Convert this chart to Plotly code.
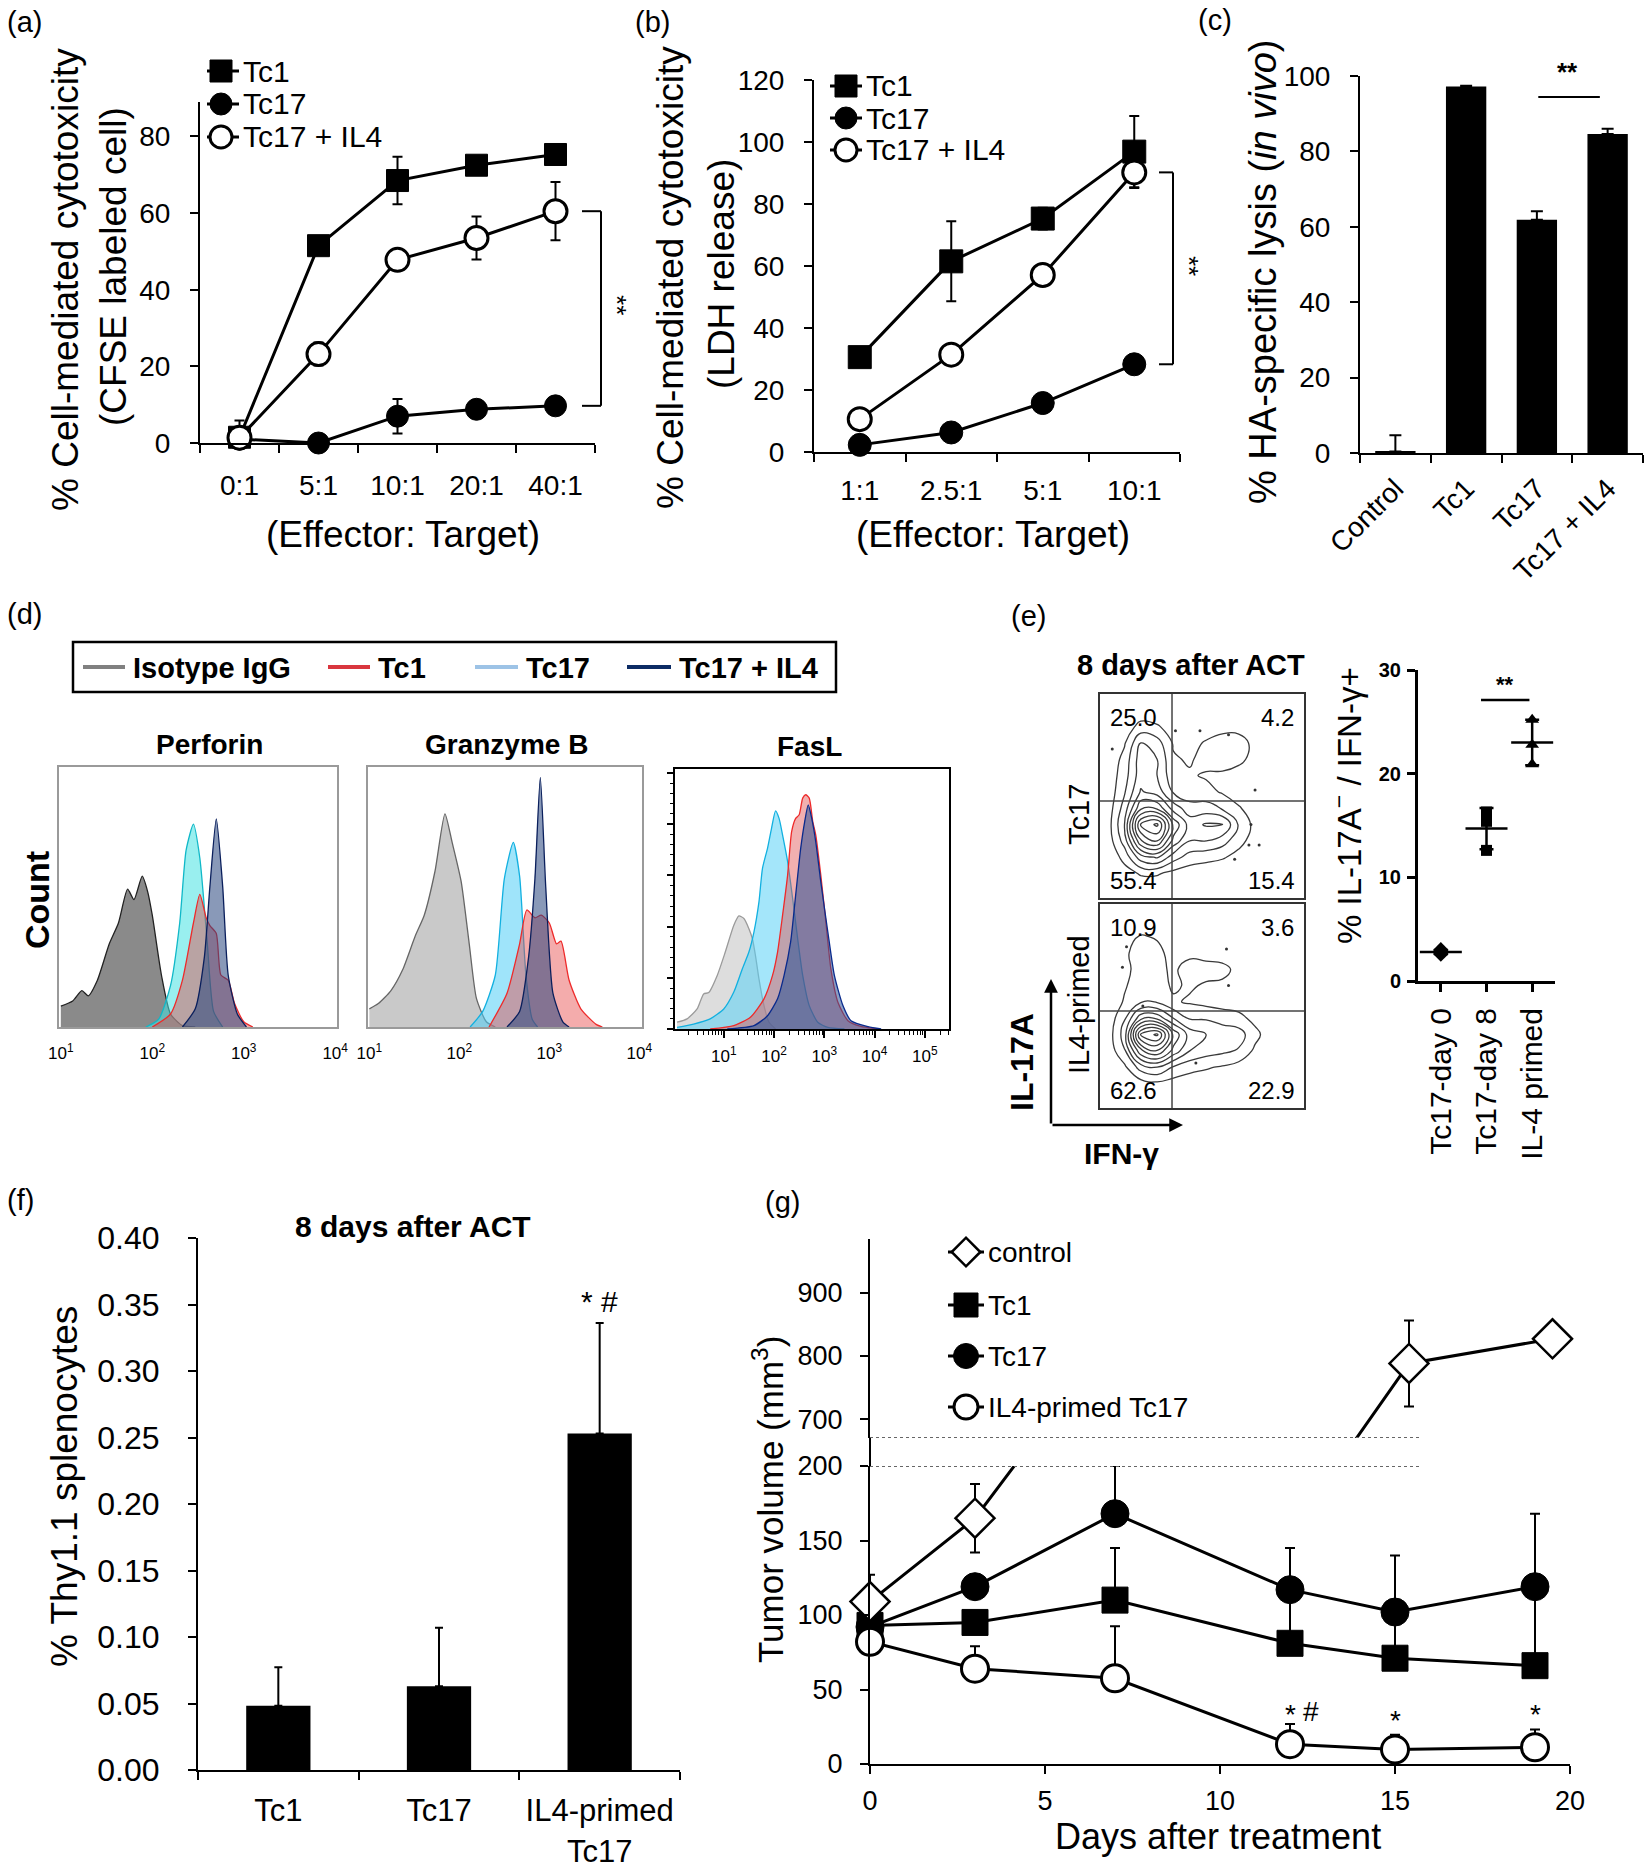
import plotly.graph_objects as go
import numpy as np

W, H = 1650, 1869
FONT = "Liberation Sans, Arial, sans-serif"

# ---------------- data ----------------
# (a) cytotoxicity, CFSE labeled targets
ratio_a = ["0:1", "5:1", "10:1", "20:1", "40:1"]
a_tc1 = [1.5, 51.5, 68.5, 72.5, 75.3]
a_tc1_err = [0.0, 0.0, 6.2, 0.0, 0.0]
a_tc17 = [1.0, 0.0, 7.0, 8.8, 9.7]
a_tc17_err = [0.0, 0.0, 4.5, 0.0, 0.0]
a_il4 = [1.4, 23.2, 47.8, 53.5, 60.5]
a_il4_err = [4.5, 3.0, 0.0, 5.6, 7.6]

# (b) cytotoxicity, LDH release
ratio_b = ["1:1", "2.5:1", "5:1", "10:1"]
b_tc1 = [30.6, 61.5, 75.3, 96.9]
b_tc1_err = [0.0, 12.9, 3.5, 11.5]
b_tc17 = [2.3, 6.3, 15.8, 28.3]
b_tc17_err = [0.0, 0.0, 0.0, 0.0]
b_il4 = [10.6, 31.4, 57.1, 90.2]
b_il4_err = [0.0, 0.0, 0.0, 5.0]

# (c) in vivo lysis
groups_c = ["Control", "Tc1", "Tc17", "Tc17 + IL4"]
c_lysis = [0.4, 97.2, 61.9, 84.6]
c_err = [4.3, 0.2, 2.2, 1.4]

# (d) flow histograms, x = log10 fluorescence, y = % of panel height
perf_iso_x = [1.0, 1.13, 1.23, 1.30, 1.40, 1.53, 1.63, 1.73, 1.80, 1.89, 1.95, 2.00, 2.10, 2.20, 2.33, 2.47]
perf_iso_y = [8, 10, 14, 12, 18, 32, 40, 53, 49, 58, 52, 43, 20, 5, 0.5, 0]
perf_tc17_x = [1.93, 2.07, 2.20, 2.30, 2.37, 2.45, 2.52, 2.60, 2.67, 2.77]
perf_tc17_y = [0, 3, 16, 40, 68, 78, 65, 33, 6, 0]
perf_tc1_x = [2.00, 2.20, 2.33, 2.45, 2.52, 2.59, 2.63, 2.70, 2.75, 2.83, 2.90, 3.00, 3.10]
perf_tc1_y = [0, 5, 18, 40, 51, 42, 39, 36, 20, 18, 9, 2, 0]
perf_il4_x = [2.33, 2.47, 2.57, 2.63, 2.70, 2.77, 2.83, 2.93, 3.03]
perf_il4_y = [0, 7, 27, 54, 80, 54, 20, 5, 0]

gzm_iso_x = [1.00, 1.10, 1.24, 1.37, 1.51, 1.61, 1.73, 1.84, 1.92, 2.02, 2.11, 2.19, 2.30, 2.40]
gzm_iso_y = [7, 9, 14, 22, 35, 43, 60, 82, 71, 56, 32, 11, 2, 0]
gzm_tc17_x = [2.12, 2.26, 2.40, 2.50, 2.60, 2.67, 2.74, 2.81, 2.87]
gzm_tc17_y = [0, 6, 20, 57, 71, 58, 20, 3, 0]
gzm_tc1_x = [2.33, 2.53, 2.67, 2.75, 2.84, 2.91, 3.00, 3.08, 3.13, 3.22, 3.35, 3.52, 3.59]
gzm_tc1_y = [0, 13, 32, 45, 42, 43, 40, 32, 33, 18, 7, 1, 0]
gzm_il4_x = [2.53, 2.67, 2.77, 2.84, 2.90, 2.96, 3.04, 3.15, 3.22]
gzm_il4_y = [0, 6, 27, 57, 96, 54, 13, 2, 0]

fasl_iso_x = [0.07, 0.27, 0.47, 0.60, 0.70, 0.87, 1.03, 1.20, 1.30, 1.40, 1.50, 1.57, 1.63, 1.70, 1.80, 1.90, 2.03]
fasl_iso_y = [2.6, 3.9, 7.7, 13.5, 14, 20.6, 29.6, 39.9, 43.5, 42.5, 38.6, 34.7, 28.3, 19.3, 9, 2.6, 0]
fasl_tc17_x = [0.07, 0.40, 0.73, 1.00, 1.20, 1.37, 1.50, 1.60, 1.70, 1.77, 1.87, 1.95, 2.03, 2.10, 2.17,
               2.27, 2.37, 2.47, 2.57, 2.70, 2.87, 3.07, 3.40]
fasl_tc17_y = [0.6, 1.9, 3.9, 7.7, 14.2, 23.2, 29.6, 37.3, 48.9, 61.8, 69.5, 77.2, 83.9, 81, 74.6,
               64.4, 50.2, 34.7, 20.6, 9, 2.6, 0.6, 0]
fasl_tc1_x = [0.73, 1.20, 1.53, 1.80, 1.97, 2.07, 2.17, 2.27, 2.35, 2.43, 2.50, 2.57, 2.63, 2.70, 2.77,
              2.83, 2.93, 3.03, 3.13, 3.27, 3.47, 3.73, 4.07]
fasl_tc1_y = [0, 1.3, 4.5, 11.6, 20.6, 29.6, 43.8, 59.2, 75.9, 81, 82.4, 88.8, 90.1, 88.8, 79.8,
              74.6, 59.2, 41.2, 23.2, 10.3, 3.2, 1, 0]
fasl_il4_x = [1.07, 1.60, 1.87, 2.07, 2.20, 2.33, 2.43, 2.53, 2.61, 2.68, 2.75, 2.83, 2.93, 3.07, 3.20,
              3.37, 3.53, 3.87, 4.13]
fasl_il4_y = [0, 1.3, 5.1, 11.6, 20.6, 33.5, 51.5, 69.5, 79.8, 86.2, 81, 72, 56.6, 37.3, 20.6,
              9, 3.2, 0.9, 0]

# (e) contour densities (rows bottom -> top), outlier events, quadrant numbers, summary dots
grid_e = [0.04, 0.12, 0.20, 0.28, 0.36, 0.44, 0.52, 0.60, 0.68, 0.76, 0.84, 0.92]
tc17_density = [
    [0, 0, 0, 0, 0, 0, 0, 0, 0, 0, 0, 0],
    [0, 0.3, 0.8, 0.8, 0.4, 0.2, 0.1, 0, 0, 0, 0, 0],
    [0, 1, 3, 3.5, 2, 1.2, 1, 0.8, 0.4, 0.1, 0, 0],
    [0.2, 2, 6, 7, 4, 2.5, 2.5, 2, 1, 0.3, 0, 0],
    [0.3, 2.5, 8, 9, 5, 3, 3.5, 3.5, 1.5, 0.4, 0, 0],
    [0.2, 2, 5, 5, 3, 2, 2, 1.5, 0.8, 0.2, 0, 0],
    [0.1, 1.5, 3.5, 3, 1.5, 1, 1, 0.6, 0.2, 0, 0, 0],
    [0.1, 1.2, 3, 2.5, 1, 0.8, 0.6, 0.4, 0.2, 0, 0, 0],
    [0, 1, 3, 2.5, 0.8, 0.6, 1, 1.5, 1, 0.3, 0, 0],
    [0, 0.6, 2.5, 2, 0.6, 0.4, 0.8, 1.2, 1.3, 0.3, 0, 0],
    [0, 0.2, 1, 0.8, 0.3, 0.1, 0.2, 0.3, 0.2, 0, 0, 0],
    [0, 0, 0.1, 0.1, 0, 0, 0, 0, 0, 0, 0, 0],
]
il4_density = [
    [0, 0, 0, 0, 0, 0, 0, 0, 0, 0, 0, 0],
    [0, 0, 0.3, 0.5, 0.3, 0.2, 0.1, 0, 0, 0, 0, 0],
    [0, 0.5, 2, 2.5, 1.5, 1, 0.8, 0.6, 0.3, 0, 0, 0],
    [0.1, 1.5, 5, 6, 4, 2.5, 2, 1.8, 1.5, 0.5, 0, 0],
    [0.2, 2, 8, 9, 5, 3, 2.5, 2.2, 2, 1, 0.1, 0],
    [0.1, 1.5, 4, 4, 2.5, 1.5, 1.5, 1.2, 1, 0.4, 0, 0],
    [0, 0.8, 1.5, 1.5, 0.8, 0.6, 0.4, 0.3, 0.2, 0, 0, 0],
    [0, 0.6, 1.2, 1, 0.6, 0.8, 0.6, 0.5, 0.2, 0, 0, 0],
    [0, 0.5, 1, 1, 0.5, 1.2, 1, 1, 0.4, 0, 0, 0],
    [0, 0.5, 1.2, 1, 0.3, 0.4, 0.4, 0.2, 0, 0, 0, 0],
    [0, 0.2, 0.8, 0.6, 0.2, 0, 0, 0, 0, 0, 0, 0],
    [0, 0, 0, 0, 0, 0, 0, 0, 0, 0, 0, 0],
]
tc17_dots_x = [0.06, 0.37, 0.49, 0.63, 0.76, 0.74, 0.73, 0.78, 0.66]
tc17_dots_y = [0.73, 0.82, 0.82, 0.80, 0.53, 0.36, 0.26, 0.26, 0.19]
il4_dots_x = [0.13, 0.62, 0.63, 0.21, 0.47, 0.11]
il4_dots_y = [0.79, 0.78, 0.60, 0.50, 0.22, 0.69]
tc17_quads = ["25.0", "4.2", "55.4", "15.4"]   # UL, UR, LL, LR
il4_quads = ["10.9", "3.6", "62.6", "22.9"]
e_groups = ["Tc17-day 0", "Tc17-day 8", "IL-4 primed"]
e_day0 = [3.0, 2.8, 2.6]
e_day8 = [16.3, 15.4, 12.6]
e_il4 = [25.2, 22.8, 20.9]
e_mean = [2.8, 14.7, 23.0]
e_sd = [0.2, 2.0, 2.2]

# (f) Thy1.1 splenocytes
groups_f = ["Tc1", "Tc17", "IL4-primed<br>Tc17"]
f_thy = [0.0483, 0.063, 0.253]
f_err = [0.029, 0.044, 0.083]

# (g) tumor volume
days = [0, 3, 7, 12, 15, 19]
control_days = [0, 3, 7, 12, 15.4, 19.5]
g_control = [109, 165, 290, 520, 788, 827]
g_control_err = [18, 23, 0, 0, 68, 0]
g_tc1 = [93, 95, 110, 81, 71, 66]
g_tc1_err = [3, 4, 35, 36, 30, 53]
g_tc17 = [92, 119, 168, 117, 102, 119]
g_tc17_err = [3, 4, 32, 28, 38, 49]
g_il4 = [82, 64, 57.5, 13.3, 9.7, 11.2]
g_il4_err = [3, 15, 35, 13.5, 10, 12]


# ---------------- helpers ----------------
def xp(x):
    return x / W


def yp(y):
    return 1 - y / H


def line_axis(domain, anchor, **kw):
    a = dict(domain=domain, anchor=anchor, showline=True, linecolor="black", linewidth=2,
             ticks="outside", ticklen=8, tickwidth=2, tickcolor="black", showgrid=False,
             zeroline=False, fixedrange=True, automargin=False,
             tickfont=dict(size=28, family=FONT, color="black"))
    a.update(kw)
    return a


def series(x, y, err, xa, ya, symbol, size, fill, mlw, sym_err=True):
    eb = dict(type="data", array=err, color="black", thickness=2, width=5, visible=True)
    if not sym_err:
        eb.update(symmetric=False, arrayminus=[0] * len(err))
    return go.Scatter(x=x, y=y, xaxis=xa, yaxis=ya, mode="lines+markers",
                      line=dict(color="black", width=3),
                      marker=dict(symbol=symbol, size=size, color=fill, line=dict(color="black", width=mlw)),
                      error_y=eb, cliponaxis=False, hoverinfo="skip")


annotations = []
shapes = []


def text(x, y, s, size, angle=0, xanchor="center", yanchor="middle", xref="paper", yref="paper", color="black"):
    if xref == "paper":
        x = xp(x)
    if yref == "paper":
        y = yp(y)
    annotations.append(dict(x=x, y=y, xref=xref, yref=yref, text=s, showarrow=False, textangle=angle,
                            xanchor=xanchor, yanchor=yanchor,
                            font=dict(size=size, family=FONT, color=color)))


def pline(x0, y0, x1, y1, color="black", width=2, dash="solid", xref="paper", yref="paper"):
    if xref == "paper":
        x0, x1 = xp(x0), xp(x1)
    if yref == "paper":
        y0, y1 = yp(y0), yp(y1)
    shapes.append(dict(type="line", x0=x0, y0=y0, x1=x1, y1=y1, xref=xref, yref=yref,
                       line=dict(color=color, width=width, dash=dash)))


fig = go.Figure()

# ---------------- (a) ----------------
fig.add_trace(series(ratio_a, a_tc17, a_tc17_err, "x", "y", "circle", 22, "black", 1))
fig.add_trace(series(ratio_a, a_tc1, a_tc1_err, "x", "y", "square", 22, "black", 1))
fig.add_trace(series(ratio_a, a_il4, a_il4_err, "x", "y", "circle", 23, "white", 3))

# ---------------- (b) ----------------
fig.add_trace(series(ratio_b, b_tc17, b_tc17_err, "x2", "y2", "circle", 23, "black", 1))
fig.add_trace(series(ratio_b, b_tc1, b_tc1_err, "x2", "y2", "square", 23, "black", 1))
fig.add_trace(series(ratio_b, b_il4, b_il4_err, "x2", "y2", "circle", 23, "white", 3))

# ---------------- (c) ----------------
fig.add_trace(go.Bar(x=groups_c, y=c_lysis, xaxis="x3", yaxis="y3", width=0.57,
                     marker=dict(color="black", line=dict(width=0)),
                     error_y=dict(type="data", array=c_err, arrayminus=[0] * 4, symmetric=False,
                                  color="black", thickness=2, width=6),
                     hoverinfo="skip"))

# ---------------- (d) ----------------
hist_panels = [
    ("x4", "y4", [(perf_iso_x, perf_iso_y, "rgba(125,125,125,0.9)", "#222222"),
                  (perf_tc17_x, perf_tc17_y, "rgba(70,225,225,0.55)", "#10b8c8"),
                  (perf_tc1_x, perf_tc1_y, "rgba(225,70,70,0.45)", "#ee2a2a"),
                  (perf_il4_x, perf_il4_y, "rgba(40,70,125,0.55)", "#0a1f5c")]),
    ("x5", "y5", [(gzm_iso_x, gzm_iso_y, "rgba(195,195,195,0.9)", "#666666"),
                  (gzm_tc17_x, gzm_tc17_y, "rgba(80,205,245,0.55)", "#12b0e0"),
                  (gzm_tc1_x, gzm_tc1_y, "rgba(230,70,70,0.45)", "#ee2a2a"),
                  (gzm_il4_x, gzm_il4_y, "rgba(40,70,125,0.55)", "#0a1f5c")]),
    ("x6", "y6", [(fasl_iso_x, fasl_iso_y, "rgba(215,215,215,0.85)", "#9a9a9a"),
                  (fasl_tc17_x, fasl_tc17_y, "rgba(90,210,245,0.55)", "#12b0e0"),
                  (fasl_tc1_x, fasl_tc1_y, "rgba(225,80,80,0.45)", "#ee2a2a"),
                  (fasl_il4_x, fasl_il4_y, "rgba(40,80,150,0.55)", "#0a2a8c")]),
]
for xa, ya, curves in hist_panels:
    for cx, cy, fillc, linec in curves:
        fig.add_trace(go.Scatter(x=cx, y=cy, xaxis=xa, yaxis=ya, mode="lines", fill="tozeroy",
                                 fillcolor=fillc, line=dict(color=linec, width=1.3, shape="spline", smoothing=0.6),
                                 hoverinfo="skip"))

# ---------------- (e) ----------------
for xa, ya, dens, dx, dy in [("x7", "y7", tc17_density, tc17_dots_x, tc17_dots_y),
                             ("x8", "y8", il4_density, il4_dots_x, il4_dots_y)]:
    fig.add_trace(go.Contour(z=dens, x=grid_e, y=grid_e, xaxis=xa, yaxis=ya, showscale=False,
                             contours=dict(coloring="lines", start=0.7, end=9.0, size=0.9),
                             colorscale=[[0, "#3a3a3a"], [1, "#3a3a3a"]],
                             line=dict(width=1.3, smoothing=1.3), hoverinfo="skip"))
    fig.add_trace(go.Scatter(x=dx, y=dy, xaxis=xa, yaxis=ya, mode="markers",
                             marker=dict(size=3, color="#333333"), hoverinfo="skip"))

fig.add_trace(go.Scatter(x=[e_groups[0]] * 3, y=e_day0, xaxis="x9", yaxis="y9", mode="markers",
                         marker=dict(symbol="diamond", size=12, color="black"), cliponaxis=False, hoverinfo="skip"))
fig.add_trace(go.Scatter(x=[e_groups[1]] * 3, y=e_day8, xaxis="x9", yaxis="y9", mode="markers",
                         marker=dict(symbol="square", size=11, color="black"), cliponaxis=False, hoverinfo="skip"))
fig.add_trace(go.Scatter(x=[e_groups[2]] * 3, y=e_il4, xaxis="x9", yaxis="y9", mode="markers",
                         marker=dict(symbol="triangle-up", size=12, color="black"), cliponaxis=False, hoverinfo="skip"))
fig.add_trace(go.Scatter(x=e_groups, y=e_mean, xaxis="x9", yaxis="y9", mode="markers",
                         marker=dict(symbol="line-ew", size=30, color="black", line=dict(color="black", width=2.5)),
                         error_y=dict(type="data", array=e_sd, color="black", thickness=2.5, width=7),
                         cliponaxis=False, hoverinfo="skip"))

# ---------------- (f) ----------------
fig.add_trace(go.Bar(x=groups_f, y=f_thy, xaxis="x10", yaxis="y10", width=0.4,
                     marker=dict(color="black", line=dict(width=0)),
                     error_y=dict(type="data", array=f_err, arrayminus=[0] * 3, symmetric=False,
                                  color="black", thickness=2, width=4),
                     hoverinfo="skip"))

# ---------------- (g) ----------------
ctrl_low = [v if v <= 200 else None for v in g_control]
ctrl_high = [v if v >= 670 else None for v in g_control]
for ya in ["y11", "y12"]:
    fig.add_trace(go.Scatter(x=control_days, y=g_control, xaxis="x11", yaxis=ya, mode="lines",
                             line=dict(color="black", width=3), hoverinfo="skip"))
fig.add_trace(series(days, g_tc17, g_tc17_err, "x11", "y11", "circle", 28, "black", 1, sym_err=False))
fig.add_trace(series(days, g_tc1, g_tc1_err, "x11", "y11", "square", 26, "black", 1, sym_err=False))
fig.add_trace(series(days, g_il4, g_il4_err, "x11", "y11", "circle", 27, "white", 3, sym_err=False))
for ya, yy in [("y11", ctrl_low), ("y12", ctrl_high)]:
    fig.add_trace(go.Scatter(x=control_days, y=yy, xaxis="x11", yaxis=ya, mode="markers",
                             marker=dict(symbol="diamond", size=30, color="white", line=dict(color="black", width=2.5)),
                             error_y=dict(type="data", array=g_control_err, color="black", thickness=2, width=5),
                             cliponaxis=False, hoverinfo="skip"))


# ---------------- legend keys (overlay in pixel space) ----------------
def key(xc, yc, x0, x1, symbol, size, fill, mlw):
    fig.add_trace(go.Scatter(x=[x0, x1], y=[yc, yc], xaxis="x13", yaxis="y13", mode="lines",
                             line=dict(color="black", width=3), hoverinfo="skip", cliponaxis=False))
    fig.add_trace(go.Scatter(x=[xc], y=[yc], xaxis="x13", yaxis="y13", mode="markers",
                             marker=dict(symbol=symbol, size=size, color=fill, line=dict(color="black", width=mlw)),
                             hoverinfo="skip", cliponaxis=False))


legend_ab = [("Tc1", "square", "black", 1), ("Tc17", "circle", "black", 1), ("Tc17 + IL4", "circle", "white", 3)]
for (lab, sym, fill, mlw), yc in zip(legend_ab, [71, 104, 137]):
    key(221, yc, 207, 239, sym, 22, fill, mlw)
    text(241, yc, lab, 30, xanchor="left")
for (lab, sym, fill, mlw), yc in zip(legend_ab, [86, 118, 150]):
    key(846, yc, 830, 862, sym, 22, fill, mlw)
    text(864, yc, lab, 30, xanchor="left")
legend_g = [("control", "diamond", "white", 2.5, 22), ("Tc1", "square", "black", 1, 24),
            ("Tc17", "circle", "black", 1, 25), ("IL4-primed Tc17", "circle", "white", 3, 24)]
for (lab, sym, fill, mlw, sz), yc in zip(legend_g, [1252, 1305, 1356, 1407]):
    key(966, yc, 948, 984, sym, sz, fill, mlw)
    text(986, yc, lab, 28, xanchor="left")

# ---------------- layout / axes ----------------
layout = dict(width=W, height=H, margin=dict(l=0, r=0, t=0, b=0, pad=0, autoexpand=False),
              paper_bgcolor="white", plot_bgcolor="rgba(0,0,0,0)", showlegend=False,
              font=dict(family=FONT, color="black"))

# (a)
layout["xaxis"] = line_axis([xp(200), xp(595)], "y", type="category", categoryorder="array",
                            categoryarray=ratio_a, range=[-0.5, 4.5], tickson="boundaries", ticklabelstandoff=16)
layout["yaxis"] = line_axis([yp(443), yp(102)], "x", range=[0, 89], tickvals=[0, 20, 40, 60, 80],
                            ticklabelstandoff=14)
# (b)
layout["xaxis2"] = line_axis([xp(814), xp(1180)], "y2", type="category", categoryorder="array",
                             categoryarray=ratio_b, range=[-0.5, 3.5], tickson="boundaries", ticklabelstandoff=12)
layout["yaxis2"] = line_axis([yp(452), yp(80)], "x2", range=[0, 120], dtick=20, ticklabelstandoff=14)
# (c)
layout["xaxis3"] = line_axis([xp(1360), xp(1643)], "y3", type="category", categoryorder="array",
                             categoryarray=groups_c, range=[-0.5, 3.5], tickson="boundaries",
                             tickangle=-45, ticklabelstandoff=6)
layout["yaxis3"] = line_axis([yp(453), yp(76)], "x3", range=[0, 100], dtick=20, ticklabelstandoff=14)

# (d)
dec_text = ["10<sup>%d</sup>" % k for k in range(1, 6)]
minor_fasl = [float(k + np.log10(m)) for k in range(0, 6) for m in range(2, 10) if k + np.log10(m) < 5.48]
hist_box = dict(showline=True, mirror=True, linewidth=1.5, showgrid=False, zeroline=False, fixedrange=True,
                automargin=False, tickfont=dict(size=17, family=FONT, color="black"))
layout["xaxis4"] = dict(hist_box, domain=[xp(59), xp(337)], anchor="y4", range=[0.98, 4.02],
                        linecolor="#9a9a9a", tickvals=[1, 2, 3, 4], ticktext=dec_text[:4], ticks="",
                        ticklabelstandoff=10)
layout["yaxis4"] = dict(hist_box, domain=[yp(1027), yp(767)], anchor="x4", range=[0, 100],
                        linecolor="#9a9a9a", showticklabels=False, ticks="")
layout["xaxis5"] = dict(hist_box, domain=[xp(368), xp(642)], anchor="y5", range=[0.985, 4.03],
                        linecolor="#9a9a9a", tickvals=[1, 2, 3, 4], ticktext=dec_text[:4], ticks="",
                        ticklabelstandoff=10)
layout["yaxis5"] = dict(hist_box, domain=[yp(1027), yp(767)], anchor="x5", range=[0, 100],
                        linecolor="#9a9a9a", showticklabels=False, ticks="")
layout["xaxis6"] = dict(hist_box, domain=[xp(675), xp(949)], anchor="y6", range=[0.03, 5.48],
                        linecolor="black", tickvals=[1, 2, 3, 4, 5], ticktext=dec_text, ticks="outside",
                        ticklen=7, tickwidth=1.5, tickcolor="black", ticklabelstandoff=4,
                        minor=dict(tickvals=minor_fasl, ticks="outside", ticklen=4, tickwidth=1, tickcolor="black"))
layout["yaxis6"] = dict(hist_box, domain=[yp(1029), yp(769)], anchor="x6", range=[0, 100],
                        linecolor="black", showticklabels=False, ticks="outside", ticklen=6, tickwidth=1.5,
                        tickcolor="black", tickmode="linear", tick0=0, dtick=19.7,
                        minor=dict(ticks="outside", ticklen=3, tickwidth=1, tickcolor="black", dtick=3.94))

# (e) contour boxes
cont_box = dict(range=[0, 1], showline=True, mirror=True, linecolor="#333333", linewidth=1.5,
                showticklabels=False, ticks="", showgrid=False, zeroline=False, fixedrange=True, automargin=False)
layout["xaxis7"] = dict(cont_box, domain=[xp(1100), xp(1304)], anchor="y7")
layout["yaxis7"] = dict(cont_box, domain=[yp(898), yp(694)], anchor="x7")
layout["xaxis8"] = dict(cont_box, domain=[xp(1100), xp(1304)], anchor="y8")
layout["yaxis8"] = dict(cont_box, domain=[yp(1108), yp(904)], anchor="x8")
# (e) summary dots
layout["xaxis9"] = line_axis([xp(1418), xp(1555)], "y9", type="category", categoryorder="array",
                             categoryarray=e_groups, range=[-0.5, 2.5], tickangle=-90, linewidth=3,
                             tickwidth=2.5, ticklabelstandoff=4,
                             tickfont=dict(size=30, family=FONT, color="black"))
layout["yaxis9"] = line_axis([yp(981), yp(670)], "x9", range=[0, 30], dtick=10, linewidth=3, tickwidth=2.5,
                             ticklabelstandoff=2,
                             tickfont=dict(size=20, family=FONT, color="black", weight="bold"))
# (f)
layout["xaxis10"] = line_axis([xp(198), xp(680)], "y10", type="category", categoryorder="array",
                              categoryarray=groups_f, range=[-0.5, 2.5], tickson="boundaries", tickangle=0,
                              ticklabelstandoff=12, tickfont=dict(size=31, family=FONT, color="black"))
layout["yaxis10"] = line_axis([yp(1770), yp(1238)], "x10", range=[0, 0.4], dtick=0.05, tickformat=".2f",
                              ticklabelstandoff=22, tickfont=dict(size=32, family=FONT, color="black"))
# (g)
layout["xaxis11"] = line_axis([xp(870), xp(1570)], "y11", range=[0, 20], dtick=5, ticklabelstandoff=4,
                              tickfont=dict(size=27, family=FONT, color="black"))
layout["yaxis11"] = line_axis([yp(1764), yp(1466)], "x11", range=[0, 200], tickvals=[0, 50, 100, 150, 200],
                              ticklabelstandoff=12, tickfont=dict(size=27, family=FONT, color="black"))
layout["yaxis12"] = line_axis([yp(1438), yp(1239)], "x11", range=[670, 985], tickvals=[700, 800, 900],
                              ticklabelstandoff=12, tickfont=dict(size=27, family=FONT, color="black"))
# overlay in pixel space for legend keys
layout["xaxis13"] = dict(domain=[0, 1], range=[0, W], visible=False, anchor="y13", fixedrange=True,
                         automargin=False)
layout["yaxis13"] = dict(domain=[0, 1], range=[H, 0], visible=False, anchor="x13", fixedrange=True,
                         automargin=False)

# ---------------- text ----------------
for lab, x, y in [("(a)", 24, 22), ("(b)", 652, 22), ("(c)", 1215, 20), ("(d)", 24, 614),
                  ("(e)", 1028, 616), ("(f)", 20, 1200), ("(g)", 782, 1202)]:
    text(x, y, lab, 29)

# (a)/(b)/(c) titles
text(65, 280, "% Cell-mediated cytotoxicity", 37, angle=-90)
text(114, 267, "(CFSE labeled cell)", 37, angle=-90)
text(403, 534, "(Effector: Target)", 37)
text(671, 278, "% Cell-mediated cytotoxicity", 37, angle=-90)
text(722, 274, "(LDH release)", 37, angle=-90)
text(993, 534, "(Effector: Target)", 37)
text(1263, 272, "% HA-specific lysis (<i>in vivo</i>)", 38, angle=-90)

# (a) x-axis line runs a little past the y-axis
pline(190, 443, 200, 443, width=2)

# brackets
pline(582, 60.5, 601, 60.5, yref="y")
pline(601, 60.5, 601, 9.7, yref="y")
pline(582, 9.7, 601, 9.7, yref="y")
text(617, 36, "**", 26, angle=90, yref="y")
pline(1159, 90.2, 1173, 90.2, yref="y2")
pline(1173, 90.2, 1173, 28.3, yref="y2")
pline(1159, 28.3, 1173, 28.3, yref="y2")
text(1189, 60, "**", 26, angle=90, yref="y2")
pline(2.02, 94.4, 2.89, 94.4, xref="x3", yref="y3")
text(1567, 72, "<b>**</b>", 26)

# (d) legend box + titles
shapes.append(dict(type="rect", xref="paper", yref="paper", x0=xp(73), x1=xp(836), y0=yp(692), y1=yp(642),
                   line=dict(color="black", width=2.5)))
d_legend = [("Isotype IgG", "#808080", 83, 125), ("Tc1", "#d9363e", 328, 370),
            ("Tc17", "#9dc3e6", 475, 518), ("Tc17 + IL4", "#0c2b64", 627, 671)]
for lab, col, x0, x1 in d_legend:
    pline(x0, 667, x1, 667, color=col, width=4)
    text(x1 + 6, 668, "<b>%s</b>" % lab, 29, xanchor="left")
text(209, 745, "<b>Perforin</b>", 28)
text(507, 745, "<b>Granzyme B</b>", 28)
text(809, 746, "<b>FasL</b>", 28)
text(37, 900, "<b>Count</b>", 34, angle=-90)

# (e) contour labels
for xa, ya, quads in [("x7", "y7", tc17_quads), ("x8", "y8", il4_quads)]:
    pline(0.353, 0, 0.353, 1, color="#444444", width=1.5, xref=xa, yref=ya)
    pline(0, 0.475, 1, 0.475, color="#444444", width=1.5, xref=xa, yref=ya)
    for q, (qx, qy) in zip(quads, [(0.165, 0.885), (0.87, 0.885), (0.165, 0.085), (0.84, 0.085)]):
        text(qx, qy, q, 24, xref=xa, yref=ya)
text(1191, 665, "<b>8 days after ACT</b>", 29)
text(1079, 815, "Tc17", 29, angle=-90)
text(1079, 1005, "IL4-primed", 29, angle=-90)
text(1022, 1062, "<b>IL-17A</b>", 32, angle=-90)
text(1121, 1153, "<b>IFN-γ</b>", 30)
annotations.append(dict(x=xp(1051), y=yp(979), xref="paper", yref="paper", ax=0, ay=146, axref="pixel",
                        ayref="pixel", text="", showarrow=True, arrowhead=2, arrowsize=1.1, arrowwidth=2.5,
                        arrowcolor="black"))
annotations.append(dict(x=xp(1183), y=yp(1125), xref="paper", yref="paper", ax=-132, ay=0, axref="pixel",
                        ayref="pixel", text="", showarrow=True, arrowhead=2, arrowsize=1.1, arrowwidth=2.5,
                        arrowcolor="black"))
text(1347, 806, "% IL-17A<sup>−</sup> / IFN-γ+", 33, angle=-90)
pline(0.88, 27.1, 1.94, 27.1, xref="x9", yref="y9", width=2.5)
text(1.4, 28.6, "<b>**</b>", 22, xref="x9", yref="y9")

# (f)
text(413, 1226, "<b>8 days after ACT</b>", 30)
text(64, 1487, "% Thy1.1 splenocytes", 37, angle=-90)
text(2, 0.352, "* #", 30, xref="x10", yref="y10")

# (g)
pline(0, 200, 15.7, 200, color="#666666", width=2, dash="dot", xref="x11", yref="y11")
pline(0, 670, 15.7, 670, color="#666666", width=2, dash="dot", xref="x11", yref="y12")
pline(870, 1438, 870, 1466, width=2)
text(12.0, 33, "*", 28, xref="x11", yref="y11")
text(12.6, 35, "#", 28, xref="x11", yref="y11")
text(15.0, 29, "*", 28, xref="x11", yref="y11")
text(19.0, 33, "*", 28, xref="x11", yref="y11")
text(1218, 1836, "Days after treatment", 36)
text(768, 1500, "Tumor volume (mm<sup>3</sup>)", 35, angle=-90)

layout["annotations"] = annotations
layout["shapes"] = shapes
fig.update_layout(**layout)

# page body has a default 8px margin; drop it so the figure sits at the window origin
fig.write_html("out.html", config={"displayModeBar": False},
               post_script="document.body.style.margin = '0px';")
